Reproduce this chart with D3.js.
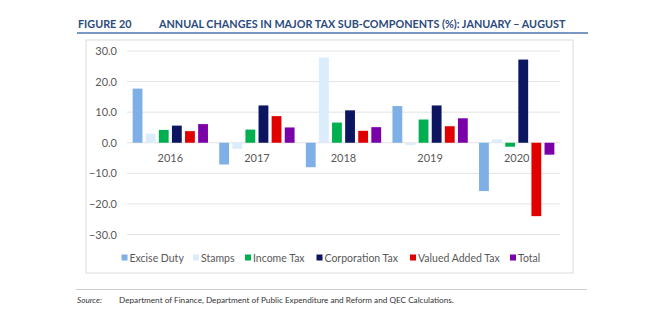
<!DOCTYPE html>
<html lang="en">
<head>
    <meta charset="UTF-8">
    <title>Annual changes in major tax sub-components</title>
    <script src="https://d3js.org/d3.v7.min.js"></script>
    <style>
        body { margin: 0; background: #fff; }
        text { font-family: Lato, "Liberation Sans", sans-serif; }
        .grid line { stroke: #e3e3e3; stroke-width: 1px; }
    </style>
</head>

<body>
<svg width="650" height="326"></svg>
<script type="text/javascript">
    // data
    let years = ["2016", "2017", "2018", "2019", "2020"];
    let series = ["Excise Duty", "Stamps", "Income Tax", "Corporation Tax", "Valued Added Tax", "Total"];
    let exciseDuty     = [17.7, -7.1, -8.0, 12.0, -15.8];
    let stamps         = [3.0, -2.0, 27.9, -0.8, 1.1];
    let incomeTax      = [4.2, 4.3, 6.6, 7.6, -1.3];
    let corporationTax = [5.6, 12.2, 10.6, 12.2, 27.2];
    let vat            = [3.8, 8.7, 3.9, 5.4, -24.0];
    let total          = [6.1, 5.0, 5.1, 8.0, -3.9];
    let yTicks = [-30, -20, -10, 0, 10, 20, 30];

    let values = [exciseDuty, stamps, incomeTax, corporationTax, vat, total];
    let colors = ["#7eb0e6", "#dbecfa", "#00b050", "#0c1660", "#e00000", "#7a00a8"];

    let svg = d3.select("svg");

    // heading
    svg.append("text")
        .attr("x", 78).attr("y", 28)
        .attr("fill", "#2b4a7e")
        .style("font-size", "10.8px").style("font-weight", "bold")
        .text("FIGURE 20");
    svg.append("text")
        .attr("x", 159).attr("y", 28)
        .attr("fill", "#2b4a7e")
        .style("font-size", "10.8px").style("font-weight", "bold")
        .text("ANNUAL CHANGES IN MAJOR TAX SUB-COMPONENTS (%): JANUARY \u2013 AUGUST");
    svg.append("line")
        .attr("x1", 77).attr("x2", 588).attr("y1", 33).attr("y2", 33)
        .attr("stroke", "#4f75b3").attr("stroke-width", 1.6);

    // chart frame
    svg.append("rect")
        .attr("x", 86).attr("y", 40).attr("width", 487).attr("height", 233)
        .attr("fill", "none").attr("stroke", "#dcdcdc");

    let x0 = d3.scaleBand()
        .domain(years)
        .range([127, 560])
        .paddingInner(0.1)
        .paddingOuter(0.05);

    let x1 = d3.scaleBand()
        .domain(series)
        .range([0, x0.bandwidth()])
        .paddingInner(0.25)
        .paddingOuter(0.1);

    let y = d3.scaleLinear()
        .domain([-30, 30])
        .range([234.5, 51]);

    // gridlines
    svg.append("g")
        .attr("class", "grid")
        .selectAll("line")
        .data(yTicks)
        .join("line")
        .attr("x1", 127).attr("x2", 560)
        .attr("y1", d => y(d)).attr("y2", d => y(d));

    // y labels
    svg.append("g")
        .selectAll("text")
        .data(yTicks)
        .join("text")
        .attr("x", 117)
        .attr("y", d => y(d) + 4)
        .attr("text-anchor", "end")
        .attr("fill", "#595959")
        .style("font-size", "11px")
        .text(d => d3.format(".1f")(d));

    // bars
    let groups = svg.append("g")
        .selectAll("g")
        .data(years)
        .join("g")
        .attr("transform", d => `translate(${x0(d)},0)`);

    groups.selectAll("rect")
        .data((yr, i) => series.map((s, j) => ({ s: s, v: values[j][i], c: colors[j] })))
        .join("rect")
        .attr("x", d => x1(d.s))
        .attr("width", x1.bandwidth())
        .attr("y", d => y(Math.max(0, d.v)))
        .attr("height", d => Math.abs(y(d.v) - y(0)))
        .attr("fill", d => d.c);

    // category labels sit just below the zero line
    svg.append("g")
        .selectAll("text")
        .data(years)
        .join("text")
        .attr("x", d => x0(d) + x0.bandwidth() / 2)
        .attr("y", y(0) + 19)
        .attr("text-anchor", "middle")
        .attr("fill", "#595959")
        .style("font-size", "11px")
        .text(d => d);

    // legend
    let legendX = [121.5, 193, 245, 316.5, 410, 510];
    let legend = svg.append("g")
        .selectAll("g")
        .data(series)
        .join("g")
        .attr("transform", (d, i) => `translate(${legendX[i]},258)`);
    legend.append("rect")
        .attr("x", 0).attr("y", -3.5)
        .attr("width", 6).attr("height", 6)
        .attr("fill", (d, i) => colors[i]);
    legend.append("text")
        .attr("x", 8).attr("y", 3.5)
        .attr("fill", "#595959")
        .style("font-size", "10.5px")
        .text(d => d);

    // source note
    svg.append("line")
        .attr("x1", 76).attr("x2", 587).attr("y1", 289.5).attr("y2", 289.5)
        .attr("stroke", "#cfcfcf").attr("stroke-width", 1);
    svg.append("text")
        .attr("x", 77).attr("y", 303)
        .attr("fill", "#333")
        .style("font-size", "8.2px").style("font-style", "italic")
        .text("Source:");
    svg.append("text")
        .attr("x", 119).attr("y", 303)
        .attr("fill", "#333")
        .style("font-size", "8.2px")
        .text("Department of Finance, Department of Public Expenditure and Reform and QEC Calculations.");
</script>
</body>
</html>
